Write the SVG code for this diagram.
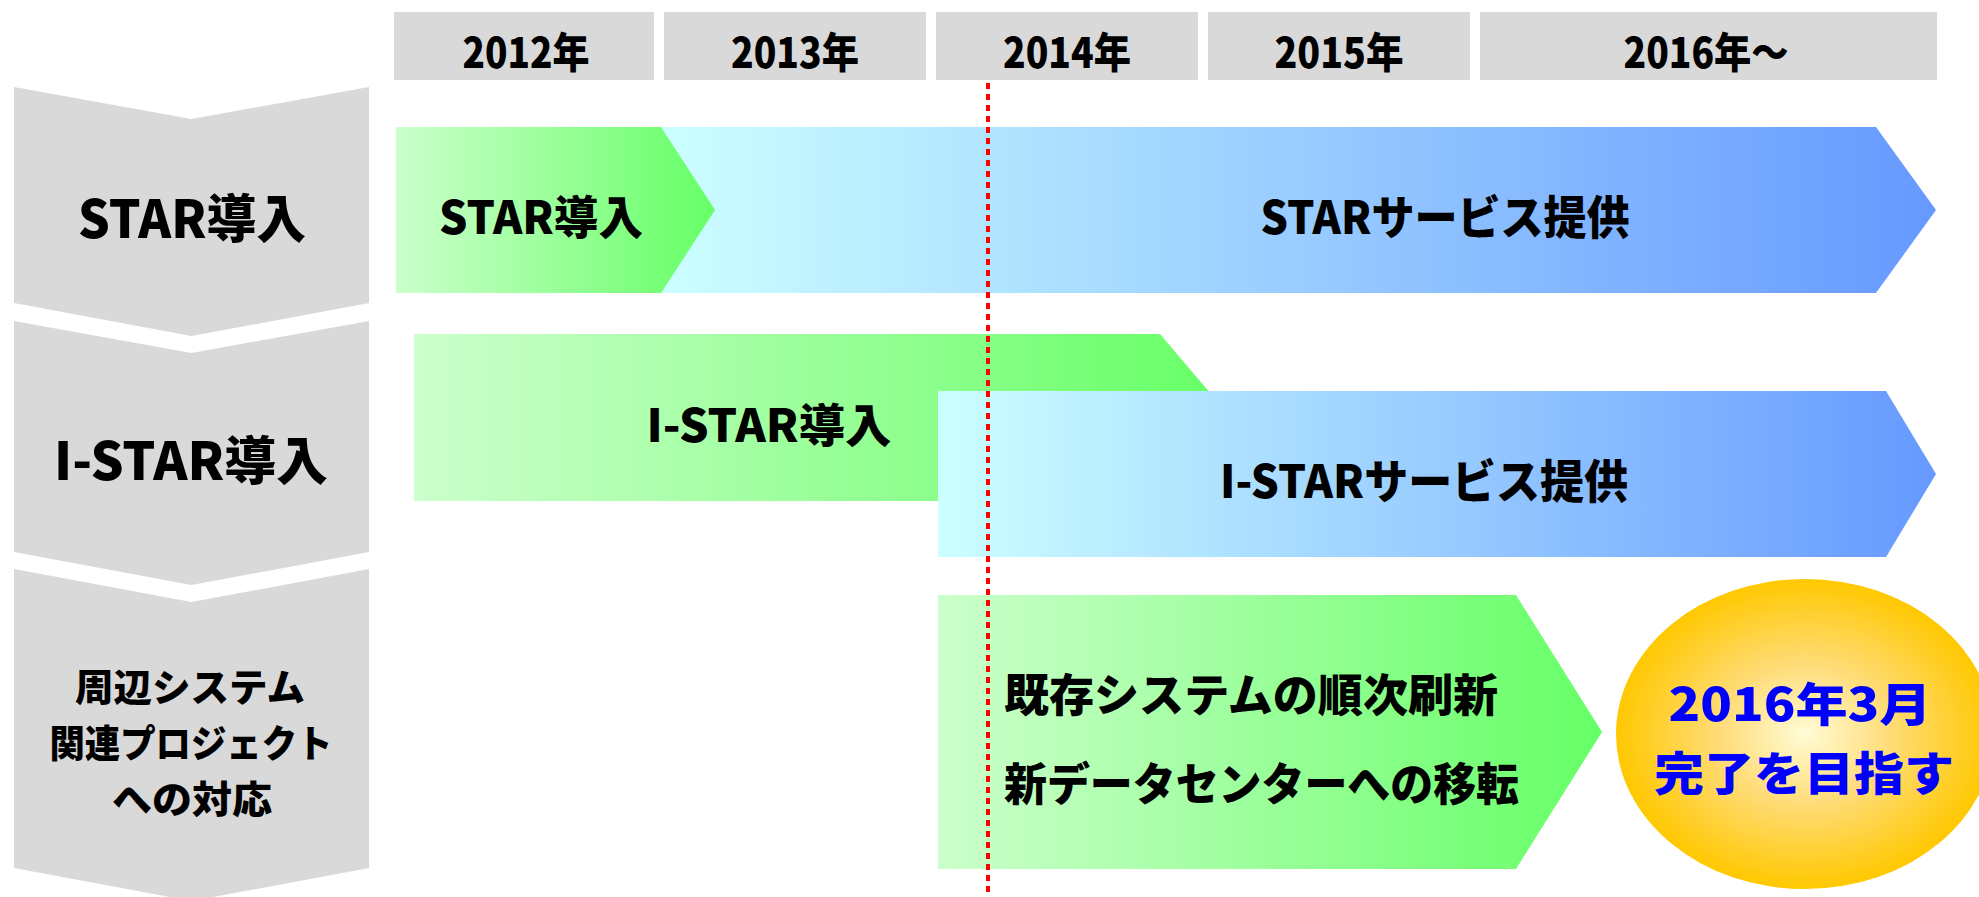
<svg xmlns="http://www.w3.org/2000/svg" width="1979" height="897" viewBox="0 0 1979 897">
  <style>
    text { font-family: "Noto Sans CJK JP", "Noto Sans CJK SC", sans-serif; font-weight: 900; fill: #000; text-anchor: middle; dominant-baseline: central; }
    .year { fill: #D9D9D9; }
    .chev { fill: #D9D9D9; }
    .yt { font-size: 42px; }
    .lt { font-size: 52px; }
    .lt3 { font-size: 38px; }
    .bt { font-size: 46px; }
    .gt { font-size: 45px; }
    .et { font-size: 46px; fill: #0000FF; }
  </style>
  <defs>
    <linearGradient id="gGreen" x1="0" y1="0" x2="1" y2="0">
      <stop offset="0" stop-color="#CCFFCC"/>
      <stop offset="1" stop-color="#66FF66"/>
    </linearGradient>
    <linearGradient id="gBlue" x1="0" y1="0" x2="1" y2="0">
      <stop offset="0" stop-color="#CCFFFF"/>
      <stop offset="1" stop-color="#6699FF"/>
    </linearGradient>
    <radialGradient id="gGold" cx="0.5" cy="0.5" r="0.5">
      <stop offset="0" stop-color="#FFFCD6"/>
      <stop offset="0.45" stop-color="#FFDC78"/>
      <stop offset="1" stop-color="#FFC800"/>
    </radialGradient>
  </defs>
  <rect width="1979" height="897" fill="#FFFFFF"/>

  <g id="years">
    <g id="y2012"><rect class="year" x="394" y="12" width="260" height="68"/><text class="yt" x="526" y="49" textLength="127" lengthAdjust="spacingAndGlyphs">2012年</text></g>
    <g id="y2013"><rect class="year" x="664" y="12" width="262" height="68"/><text class="yt" x="795" y="49" textLength="128" lengthAdjust="spacingAndGlyphs">2013年</text></g>
    <g id="y2014"><rect class="year" x="936" y="12" width="262" height="68"/><text class="yt" x="1067" y="49" textLength="128" lengthAdjust="spacingAndGlyphs">2014年</text></g>
    <g id="y2015"><rect class="year" x="1208" y="12" width="262" height="68"/><text class="yt" x="1339" y="49" textLength="129" lengthAdjust="spacingAndGlyphs">2015年</text></g>
    <g id="y2016"><rect class="year" x="1480" y="12" width="457" height="68"/><text class="yt" x="1706" y="49" textLength="165" lengthAdjust="spacingAndGlyphs">2016年～</text></g>
  </g>

  <g id="row-labels">
    <g id="lab-star">
      <polygon class="chev" points="14,87 191.5,119 369,87 369,303 191.5,336 14,303"/>
      <text class="lt" x="192" y="215" textLength="228" lengthAdjust="spacingAndGlyphs">STAR導入</text>
    </g>
    <g id="lab-istar">
      <polygon class="chev" points="14,321 191.5,353 369,321 369,552 191.5,585 14,552"/>
      <text class="lt" x="191" y="457" textLength="274" lengthAdjust="spacingAndGlyphs">I-STAR導入</text>
    </g>
    <g id="lab-other">
      <polygon class="chev" points="14,569 191.5,602 369,569 369,868 191.5,901 14,868"/>
      <text class="lt3" x="190" y="684" textLength="230" lengthAdjust="spacingAndGlyphs">周辺システム</text>
      <text class="lt3" x="191" y="740" textLength="283" lengthAdjust="spacingAndGlyphs">関連プロジェクト</text>
      <text class="lt3" x="192" y="796" textLength="160" lengthAdjust="spacingAndGlyphs">への対応</text>
    </g>
  </g>

  <g id="bars">
    <g id="star-service">
      <polygon fill="url(#gBlue)" points="661,127 1876,127 1936,210 1876,293 661,293"/>
      <text class="bt" x="1445" y="214" textLength="369" lengthAdjust="spacingAndGlyphs">STARサービス提供</text>
    </g>
    <g id="star-intro">
      <polygon fill="url(#gGreen)" points="396,127 661,127 715,210 661,293 396,293"/>
      <text class="bt" x="541" y="214" textLength="204" lengthAdjust="spacingAndGlyphs">STAR導入</text>
    </g>
    <g id="istar-intro">
      <polygon fill="url(#gGreen)" points="414,334 1160,334 1231,417.5 1160,501 414,501"/>
      <text class="bt" x="769" y="422" textLength="245" lengthAdjust="spacingAndGlyphs">I-STAR導入</text>
    </g>
    <g id="istar-service">
      <polygon fill="url(#gBlue)" points="938,391 1886,391 1936,474 1886,557 938,557"/>
      <text class="bt" x="1424" y="478" textLength="408" lengthAdjust="spacingAndGlyphs">I-STARサービス提供</text>
    </g>
    <g id="related">
      <polygon fill="url(#gGreen)" points="938,595 1516,595 1602,732 1516,869 938,869"/>
      <text class="gt" x="1251" y="692" textLength="494" lengthAdjust="spacingAndGlyphs">既存システムの順次刷新</text>
      <text class="gt" x="1261.5" y="781" textLength="515" lengthAdjust="spacingAndGlyphs">新データセンターへの移転</text>
    </g>
    <g id="goal">
      <ellipse cx="1805" cy="734" rx="189" ry="155" fill="url(#gGold)"/>
      <text class="et" x="1800" y="701" textLength="263" lengthAdjust="spacingAndGlyphs">2016年3月</text>
      <text class="et" x="1804" y="770" textLength="300" lengthAdjust="spacingAndGlyphs">完了を目指す</text>
    </g>
  </g>

  <g id="connectors">
    <line x1="988" y1="83" x2="988" y2="897" stroke="#FF0000" stroke-width="4" stroke-dasharray="6 5"/>
  </g>
</svg>
